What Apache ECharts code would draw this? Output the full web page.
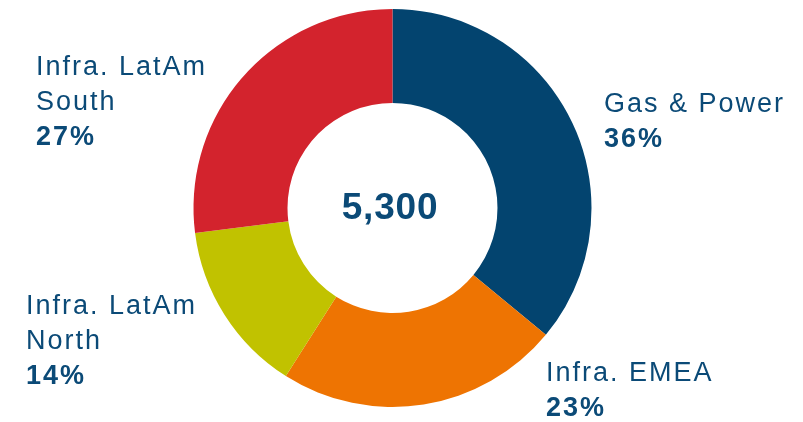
<!DOCTYPE html>
<html>
<head>
<meta charset="utf-8">
<script src="https://cdn.jsdelivr.net/npm/echarts@6/dist/echarts.min.js"></script>
<style>
  html, body { margin: 0; padding: 0; background: #fff; }
  #chart { width: 803px; height: 422px; }
</style>
</head>
<body>
<div id="chart"></div>
<script>
var categories = ['Gas & Power', 'Infra. EMEA', 'Infra. LatAm\nNorth', 'Infra. LatAm\nSouth'];
var shares = [36, 23, 14, 27];
var total = 5300;
var colors = ['#03446f', '#ee7402', '#c1c200', '#d3232d'];

// left/top of each label block
var labelPos = [[604, 87], [546, 356], [26, 289], [36, 50]];

// the source text is tracked out a little; zrender has no letterSpacing option
var origFillText = CanvasRenderingContext2D.prototype.fillText;
CanvasRenderingContext2D.prototype.fillText = function () {
  this.letterSpacing = this.font.indexOf('37px') >= 0 ? '0.8px' : '2px';
  return origFillText.apply(this, arguments);
};

window.onload = function () {
  var myChart = echarts.init(document.getElementById('chart'));
  var textColor = '#0b4a77';
  var option = {
    animation: false,
    color: colors,
    graphic: [
      {
        type: 'text',
        x: 390,
        y: 209,
        style: {
          text: total.toLocaleString('en-US'),
          fill: textColor,
          font: 'bold 37px "Liberation Sans", Arial, sans-serif',
          align: 'center',
          verticalAlign: 'middle'
        }
      }
    ],
    series: [
      {
        type: 'pie',
        center: [392.5, 208],
        radius: [105, 199],
        startAngle: 90,
        clockwise: true,
        silent: true,
        emphasis: { disabled: true },
        itemStyle: { borderWidth: 0 },
        label: {
          show: true,
          position: 'outside',
          formatter: function (p) {
            return '{n|' + p.name + '}\n{p|' + p.value + '%}';
          },
          rich: {
            n: {
              fontFamily: '"Liberation Sans", Arial, sans-serif',
              fontSize: 27,
              color: textColor,
              lineHeight: 35
            },
            p: {
              fontFamily: '"Liberation Sans", Arial, sans-serif',
              fontSize: 27,
              fontWeight: 'bold',
              color: textColor,
              lineHeight: 35
            }
          }
        },
        labelLine: { show: false },
        labelLayout: function (params) {
          var p = labelPos[params.dataIndex];
          return { x: p[0], y: p[1], align: 'left', verticalAlign: 'top' };
        },
        data: categories.map(function (c, i) {
          return { name: c, value: shares[i] };
        })
      }
    ]
  };
  myChart.setOption(option, true);
};
</script>
</body>
</html>
